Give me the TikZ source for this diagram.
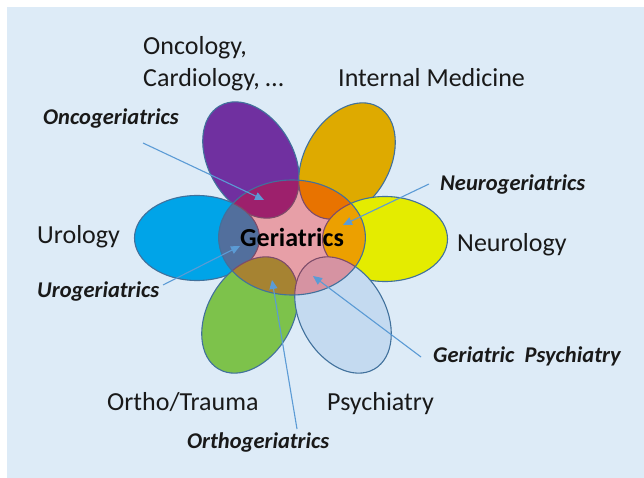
\documentclass[tikz,border=0pt]{standalone}
\usepackage{fontspec}
\setmainfont{Carlito}
\usepackage{xcolor}
\usetikzlibrary{shapes.geometric, arrows.meta, positioning}

\definecolor{bgblue}{HTML}{DDEBF7}
\definecolor{rimblue}{HTML}{41719C}
\definecolor{arrowblue}{HTML}{5B9BD5}
\definecolor{oncpurple}{HTML}{7030A0}
\definecolor{medgold}{HTML}{DEAA00}
\definecolor{uroblue}{HTML}{00A4E8}
\definecolor{neuyellow}{HTML}{E4EC00}
\definecolor{orthgreen}{HTML}{7DC24B}
\definecolor{psyblue}{HTML}{C4DAF0}

\begin{document}
\begin{tikzpicture}[
		x=1pt, y=-1pt,
		petal/.style={ellipse, draw=rimblue, line width=1.1pt, inner sep=0pt, minimum width=125pt, minimum height=85pt},
		hub/.style={ellipse, draw=rimblue, line width=1.1pt, fill=red, fill opacity=0.32, text opacity=1, inner sep=0pt, minimum width=132pt, minimum height=115pt, font=\fontsize{26}{30}\selectfont\bfseries},
		field/.style={inner sep=0pt, anchor=base west, align=left, text=black!90, font=\fontsize{26}{32}\selectfont},
		link/.style={inner sep=0pt, anchor=base west, text=black!90, font=\fontsize{22.5}{27}\selectfont\bfseries\itshape},
		arrow/.style={-{Triangle[length=9pt, width=8pt]}, draw=arrowblue, line width=1.1pt}
		]
		\useasboundingbox (0,0) rectangle (644,478);
		\fill[bgblue] (7,7) rectangle (644,478);
		
		% Petals
		\node[petal, fill=oncpurple, rotate=-60] (onc) at (251,160) {};
		\node[petal, fill=medgold, rotate=60] (med) at (347,161) {};
		\node[petal, fill=uroblue] (uro) at (197,238) {};
		\node[petal, fill=neuyellow] (neu) at (385,239) {};
		\node[petal, fill=orthgreen, rotate=60] (orth) at (250,315) {};
		\node[petal, fill=psyblue, rotate=-60] (psy) at (343,315) {};
		\node[hub] (ger) at (292,237.5) {Geriatrics};
		
		% Fields
		\node[field] (oncf) at (143,87) {Oncology,\\Cardiology, …};
		\node[field] (medf) at (338,87) {Internal Medicine};
		\node[field] (urof) at (37,243) {Urology};
		\node[field] (neuf) at (457,251) {Neurology};
		\node[field] (orthf) at (107,410) {Ortho/Trauma};
		\node[field] (psyf) at (327,410) {Psychiatry};
		
		% Overlaps
		\node[link] (oncl) at (43,125) {Oncogeriatrics};
		\node[link] (neul) at (440,191) {Neurogeriatrics};
		\node[link] (urol) at (37,297) {Urogeriatrics};
		\node[link] (psyl) at (433,362) {Geriatric\ \ Psychiatry};
		\node[link] (orthl) at (187,448) {Orthogeriatrics};
		
		\coordinate (onct) at (143,143);
		\coordinate (neut) at (429,184);
		\coordinate (urot) at (163,285);
		\coordinate (psyt) at (421,357);
		\coordinate (ortht) at (297,429);
		\coordinate (onch) at (264,200);
		\coordinate (neuh) at (343,225);
		\coordinate (uroh) at (240,246);
		\coordinate (psyh) at (313,276);
		\coordinate (orthh) at (272,280);
		
		% Arrows
		\draw[arrow] (onct) -- (onch);
		\draw[arrow] (neut) -- (neuh);
		\draw[arrow] (urot) -- (uroh);
		\draw[arrow] (psyt) -- (psyh);
		\draw[arrow] (ortht) -- (orthh);
	\end{tikzpicture}
\end{document}
